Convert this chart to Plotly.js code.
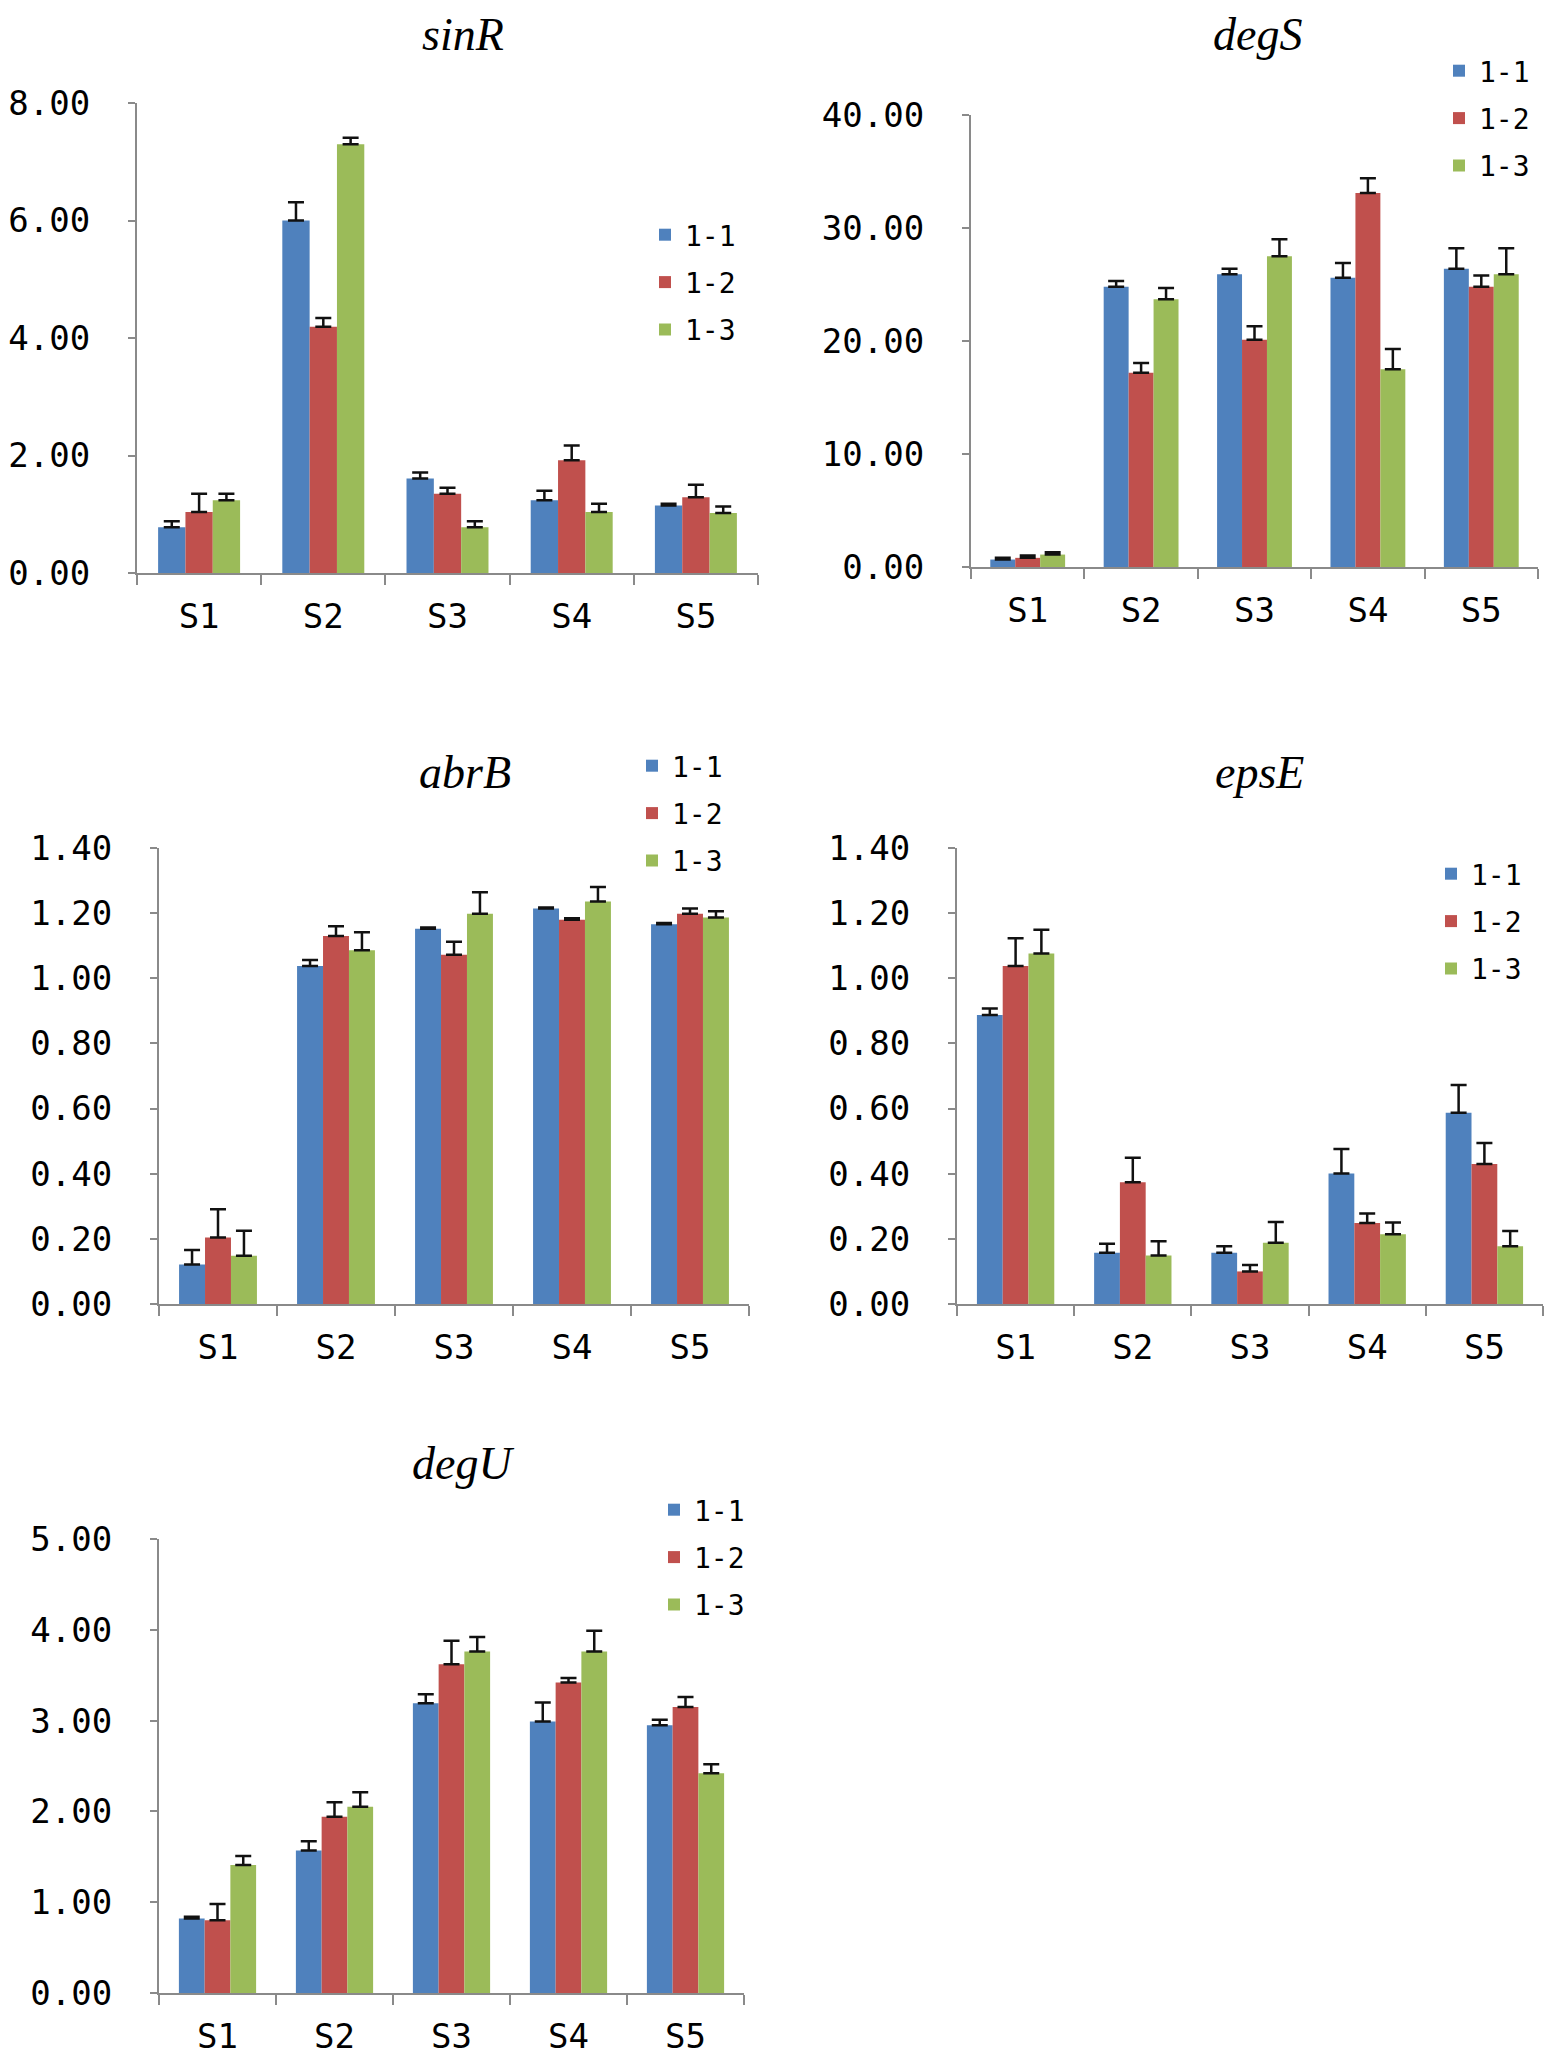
<!DOCTYPE html>
<html>
<head>
<meta charset="utf-8">
<script src="https://cdn.plot.ly/plotly-3.0.1.min.js"></script>
<style>
  html, body { margin: 0; padding: 0; background: #fff; }
  #chart { width: 1559px; height: 2059px; }
</style>
</head>
<body>
<div id="chart"></div>
<script>
var W = 1559, H = 2059;

var samples = ['S1', 'S2', 'S3', 'S4', 'S5'];
var seriesNames = ['1-1', '1-2', '1-3'];
var seriesColors = ['#4F81BD', '#C0504D', '#9BBB59'];

// sinR
var sinR_11 = [0.78, 6.00, 1.61, 1.24, 1.15];
var sinR_12 = [1.04, 4.19, 1.35, 1.92, 1.29];
var sinR_13 = [1.24, 7.30, 0.78, 1.04, 1.02];
var sinR_err11 = [0.10, 0.31, 0.10, 0.16, 0.03];
var sinR_err12 = [0.31, 0.15, 0.10, 0.25, 0.21];
var sinR_err13 = [0.11, 0.11, 0.10, 0.14, 0.11];

// degS
var degS_11 = [0.66, 24.8, 25.9, 25.6, 26.4];
var degS_12 = [0.81, 17.2, 20.1, 33.1, 24.8];
var degS_13 = [1.10, 23.7, 27.5, 17.5, 25.9];
var degS_err11 = [0.15, 0.5, 0.5, 1.3, 1.8];
var degS_err12 = [0.20, 0.85, 1.2, 1.3, 1.0];
var degS_err13 = [0.20, 1.0, 1.5, 1.8, 2.3];

// abrB
var abrB_11 = [0.121, 1.038, 1.152, 1.214, 1.166];
var abrB_12 = [0.204, 1.130, 1.072, 1.180, 1.198];
var abrB_13 = [0.148, 1.086, 1.198, 1.236, 1.187];
var abrB_err11 = [0.045, 0.018, 0.004, 0.003, 0.004];
var abrB_err12 = [0.087, 0.030, 0.040, 0.004, 0.016];
var abrB_err13 = [0.077, 0.055, 0.066, 0.044, 0.019];

// epsE
var epsE_11 = [0.887, 0.157, 0.157, 0.401, 0.587];
var epsE_12 = [1.038, 0.374, 0.100, 0.249, 0.430];
var epsE_13 = [1.076, 0.149, 0.188, 0.214, 0.177];
var epsE_err11 = [0.020, 0.028, 0.020, 0.075, 0.085];
var epsE_err12 = [0.085, 0.075, 0.020, 0.029, 0.064];
var epsE_err13 = [0.073, 0.044, 0.064, 0.036, 0.047];

// degU
var degU_11 = [0.82, 1.57, 3.19, 2.99, 2.95];
var degU_12 = [0.80, 1.94, 3.62, 3.42, 3.15];
var degU_13 = [1.41, 2.05, 3.76, 3.76, 2.42];
var degU_err11 = [0.02, 0.10, 0.10, 0.21, 0.06];
var degU_err12 = [0.18, 0.16, 0.26, 0.05, 0.11];
var degU_err13 = [0.10, 0.16, 0.16, 0.23, 0.10];

var genes = ['sinR', 'degS', 'abrB', 'epsE', 'degU'];
var geneValues = [
  [sinR_11, sinR_12, sinR_13],
  [degS_11, degS_12, degS_13],
  [abrB_11, abrB_12, abrB_13],
  [epsE_11, epsE_12, epsE_13],
  [degU_11, degU_12, degU_13]
];
var geneErrors = [
  [sinR_err11, sinR_err12, sinR_err13],
  [degS_err11, degS_err12, degS_err13],
  [abrB_err11, abrB_err12, abrB_err13],
  [epsE_err11, epsE_err12, epsE_err13],
  [degU_err11, degU_err12, degU_err13]
];
var yMax = [8, 40, 1.4, 1.4, 5];
var yStep = [2, 10, 0.2, 0.2, 1];

// panel geometry in pixels: plot box, title centre, legend top-left
var panels = [
  { x0: 137, x1: 758, y0: 103, y1: 573, tx: 463, ty: 35, lx: 645, ly: 210 },
  { x0: 971, x1: 1538, y0: 115, y1: 567, tx: 1257, ty: 35, lx: 1439, ly: 46 },
  { x0: 159, x1: 749, y0: 848, y1: 1304, tx: 465, ty: 772, lx: 632, ly: 741 },
  { x0: 957, x1: 1543, y0: 848, y1: 1304, tx: 1259, ty: 772, lx: 1431, ly: 849 },
  { x0: 159, x1: 744, y0: 1539, y1: 1993, tx: 463, ty: 1463, lx: 654, ly: 1485 }
];

var tickFont = { family: 'DejaVu Sans Mono', size: 34, color: '#000' };
var axisGrey = '#8a8a8a';

var data = [];
var layout = {
  width: W, height: H,
  margin: { l: 0, r: 0, t: 0, b: 0 },
  paper_bgcolor: '#fff', plot_bgcolor: '#fff',
  barmode: 'group',
  bargap: 0.34,
  bargroupgap: 0,
  annotations: [],
  showlegend: true
};

genes.forEach(function (g, i) {
  var p = panels[i];
  var n = i === 0 ? '' : String(i + 1);
  var legendName = 'legend' + n;

  for (var s = 0; s < 3; s++) {
    data.push({
      type: 'bar',
      name: seriesNames[s],
      x: samples,
      y: geneValues[i][s],
      xaxis: 'x' + n,
      yaxis: 'y' + n,
      legend: legendName,
      legendgroup: g + seriesNames[s],
      marker: { color: seriesColors[s], line: { width: 0 } },
      error_y: {
        type: 'data',
        symmetric: false,
        array: geneErrors[i][s],
        arrayminus: [0, 0, 0, 0, 0],
        color: '#111',
        thickness: 2.5,
        width: 8
      },
      hoverinfo: 'x+y+name'
    });
  }

  layout['xaxis' + n] = {
    domain: [p.x0 / W, p.x1 / W],
    anchor: 'y' + n,
    type: 'category',
    range: [-0.5, 4.5],
    showline: true, linecolor: axisGrey, linewidth: 2,
    ticks: 'outside', tickson: 'boundaries', ticklen: 10, tickcolor: axisGrey, tickwidth: 2,
    ticklabelstandoff: 12,
    showgrid: false, zeroline: false,
    tickfont: tickFont
  };
  layout['yaxis' + n] = {
    domain: [1 - p.y1 / H, 1 - p.y0 / H],
    anchor: 'x' + n,
    range: [0, yMax[i]],
    dtick: yStep[i], tick0: 0,
    tickformat: '.2f',
    showline: true, linecolor: axisGrey, linewidth: 2,
    ticks: 'outside', ticklen: 7, tickcolor: axisGrey, tickwidth: 2,
    ticklabelstandoff: 31,
    showgrid: false, zeroline: false,
    tickfont: tickFont
  };
  layout[legendName] = {
    x: p.lx / W, y: 1 - p.ly / H,
    xanchor: 'left', yanchor: 'top',
    xref: 'paper', yref: 'paper',
    traceorder: 'grouped',
    tracegroupgap: 8,
    bgcolor: 'rgba(0,0,0,0)',
    font: { family: 'DejaVu Sans Mono', size: 28, color: '#000' }
  };
  layout.annotations.push({
    text: '<i>' + g + '</i>',
    xref: 'paper', yref: 'paper',
    x: p.tx / W, y: 1 - p.ty / H,
    xanchor: 'center', yanchor: 'middle',
    showarrow: false,
    font: { family: 'Liberation Serif', size: 46, color: '#000' }
  });
});

Plotly.newPlot('chart', data, layout, { displayModeBar: false, staticPlot: true });
</script>
</body>
</html>
